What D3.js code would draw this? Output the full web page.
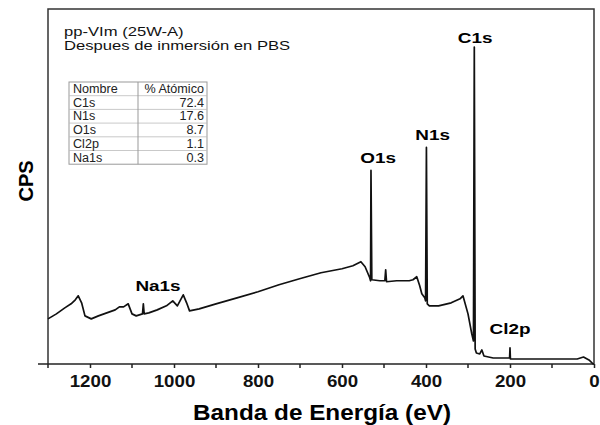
<!DOCTYPE html>
<html>
<head>
<meta charset="utf-8">
<script src="https://cdn.jsdelivr.net/npm/d3@7"></script>
<style>
  body { margin: 0; background: #fff; }
  text { font-family: "Liberation Sans", Arial, sans-serif; }
</style>
</head>
<body>
<svg class="chart"></svg>
<script>
// binding energy (eV) and counts (arbitrary units)
const energy = [1300, 1280, 1260, 1245, 1235, 1228, 1220, 1212, 1197, 1180, 1160, 1140, 1130, 1120, 1109, 1100, 1090,
  1075, 1073, 1071, 1060, 1040, 1018, 1003, 992, 978, 970, 963, 940, 900, 850, 800, 750, 701, 650, 600, 574, 555,
  545, 541, 534, 532, 531, 529, 510, 498, 496, 494, 470, 440, 431, 422, 415, 410, 403, 401, 399, 397, 392, 370, 340,
  319, 312, 300, 291, 287, 285, 283, 280, 272, 267, 262, 240, 201, 200, 199, 150, 100, 40, 25, 12, 2, 0];
const counts = [45, 50, 56, 60, 64, 68, 61, 48, 45, 48, 51, 54, 57, 57, 60, 50, 48,
  50, 60, 50, 51, 54, 58, 63, 58, 69, 61, 53, 55, 60, 66, 72, 79, 85, 91, 95, 98, 102,
  97, 93, 86, 83, 193, 84, 83, 83, 94, 82, 83, 83, 84, 87, 78, 70, 66, 63, 216, 60, 58, 58, 61,
  65, 68, 50, 30, 23, 316, 15, 11, 10, 14, 8, 6, 6, 16, 5, 5, 5, 5, 7, 4, 0, 0];

// peak label anchors (energy, counts)
const peakNames = ['C1s', 'N1s', 'O1s', 'Na1s', 'Cl2p'];
const labelEnergy = [283, 384, 514, 1038, 200];
const labelCounts = [320, 223, 200, 73, 30];

const tableNames = ['C1s', 'N1s', 'O1s', 'Cl2p', 'Na1s'];
const tableAtomic = ['72.4', '17.6', '8.7', '1.1', '0.3'];

const majorTicks = [1200, 1000, 800, 600, 400, 200, 0];
const minorTicks = [1300, 1100, 900, 700, 500, 300, 100];

const width = 600, height = 425;
const margin = {top: 9, right: 6, bottom: 61, left: 48};

const svg = d3.select('.chart')
  .attr('width', width)
  .attr('height', height);

// the original figure is a little wider than its fonts, so stretch text
function stretch(sel, k) {
  sel.each(function() {
    const len = this.getComputedTextLength();
    d3.select(this)
      .attr('textLength', len * k)
      .attr('lengthAdjust', 'spacingAndGlyphs');
  });
}

const x = d3.scaleLinear()
  .domain([1300, 0])
  .range([margin.left, width - margin.right]);

const y = d3.scaleLinear()
  .domain([0, 354])
  .range([height - margin.bottom, margin.top]);

// frame
svg.append('path')
  .attr('d', `M${x(1300)},${y(0)}V${y(354)}H${x(0)}V${y(0)}`)
  .attr('fill', 'none')
  .attr('stroke', '#333')
  .attr('stroke-width', 1.5);

// bottom axis
const xAxis = d3.axisBottom(x)
  .tickValues(majorTicks)
  .tickSize(4)
  .tickSizeOuter(0)
  .tickFormat(d3.format('d'));

const gx = svg.append('g')
  .attr('transform', `translate(0,${y(0)})`)
  .call(xAxis);

gx.select('.domain').remove();
gx.selectAll('.tick line').attr('stroke', '#222').attr('stroke-width', 1.5);
gx.selectAll('.tick text')
  .attr('y', 8)
  .attr('dy', '0.9em')
  .style('font-size', '17px')
  .style('font-weight', 'bold')
  .attr('fill', '#111')
  .call(stretch, 1.1);

gx.selectAll('.minor').data(minorTicks)
  .enter().append('line')
  .attr('class', 'minor')
  .attr('x1', d => x(d)).attr('x2', d => x(d))
  .attr('y1', 0).attr('y2', 4)
  .attr('stroke', '#222').attr('stroke-width', 1.5);

svg.append('line')
  .attr('x1', 38).attr('x2', x(0))
  .attr('y1', y(0)).attr('y2', y(0))
  .attr('stroke', '#222')
  .attr('stroke-width', 1.5);

// axis titles
svg.append('text')
  .attr('x', 322).attr('y', 420)
  .attr('text-anchor', 'middle')
  .attr('textLength', 258)
  .attr('lengthAdjust', 'spacingAndGlyphs')
  .style('font-size', '22px')
  .style('font-weight', 'bold')
  .text('Banda de Energía (eV)');

svg.append('text')
  .attr('transform', 'translate(33,181) rotate(-90)')
  .attr('text-anchor', 'middle')
  .style('font-size', '20px')
  .style('font-weight', 'bold')
  .text('CPS');

// spectrum
const spectrum = energy.map((e, i) => ({e, c: counts[i]}));
const line = d3.line()
  .x(d => x(d.e))
  .y(d => y(d.c));

svg.append('path')
  .datum(spectrum)
  .attr('d', line)
  .attr('fill', 'none')
  .attr('stroke', '#111')
  .attr('stroke-width', 1.7)
  .attr('stroke-linejoin', 'round');

// peak labels
svg.selectAll('.peak').data(peakNames)
  .enter().append('text')
  .attr('class', 'peak')
  .attr('x', (d, i) => x(labelEnergy[i]))
  .attr('y', (d, i) => y(labelCounts[i]))
  .attr('text-anchor', 'middle')
  .style('font-size', '15px')
  .style('font-weight', 'bold')
  .text(d => d)
  .call(stretch, 1.26);

// sample description
svg.append('text')
  .attr('x', 64).attr('y', 36)
  .style('font-size', '13.5px')
  .attr('fill', '#111')
  .text('pp-VIm (25W-A)')
  .call(stretch, 1.23);
svg.append('text')
  .attr('x', 64).attr('y', 50)
  .style('font-size', '13.5px')
  .attr('fill', '#111')
  .text('Despues de inmersión en PBS')
  .call(stretch, 1.23);

// composition table
const tx = 69, ty = 82, rowH = 13.7, tw = 138, colX = 138;
const tbl = svg.append('g');
const rows = [['Nombre', '% Atómico']].concat(tableNames.map((n, i) => [n, tableAtomic[i]]));

tbl.append('rect')
  .attr('x', tx).attr('y', ty)
  .attr('width', tw)
  .attr('height', rowH * rows.length)
  .attr('fill', '#fff')
  .attr('stroke', '#999');

tbl.selectAll('.hline').data(d3.range(1, rows.length))
  .enter().append('line')
  .attr('x1', tx).attr('x2', tx + tw)
  .attr('y1', d => ty + d * rowH).attr('y2', d => ty + d * rowH)
  .attr('stroke', '#bbb').attr('stroke-width', 0.8);

tbl.append('line')
  .attr('x1', colX).attr('x2', colX)
  .attr('y1', ty).attr('y2', ty + rowH * rows.length)
  .attr('stroke', '#999');

tbl.selectAll('.cname').data(rows)
  .enter().append('text')
  .attr('x', tx + 4)
  .attr('y', (d, i) => ty + i * rowH + 11)
  .style('font-size', '12px')
  .attr('fill', '#222')
  .text(d => d[0])
  .call(stretch, 1.05);

tbl.selectAll('.cval').data(rows)
  .enter().append('text')
  .attr('x', tx + tw - 3)
  .attr('y', (d, i) => ty + i * rowH + 11)
  .attr('text-anchor', 'end')
  .style('font-size', '12px')
  .attr('fill', '#222')
  .text(d => d[1])
  .call(stretch, 1.05);
</script>
</body>
</html>
